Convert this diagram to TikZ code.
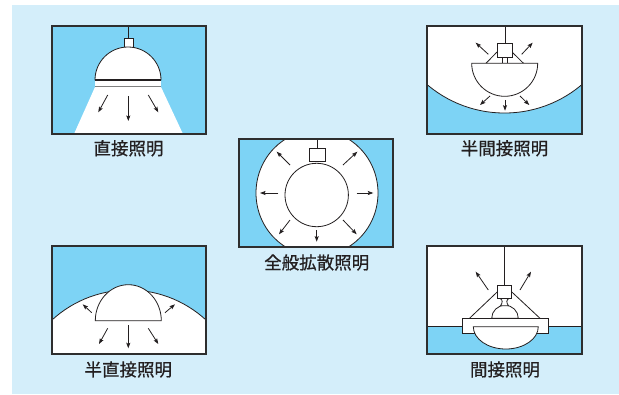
\documentclass[tikz,border=0pt]{standalone}
\usepackage{fontspec}
\newfontfamily\jpfont[FakeBold=0.7]{Noto Sans CJK JP}
\usetikzlibrary{arrows.meta}
\definecolor{bgblue}{HTML}{D4EEFA}
\definecolor{lampblue}{HTML}{7DD3F5}
\definecolor{frame}{HTML}{2E2E2E}
\definecolor{ink}{HTML}{231F20}
\begin{document}
\begin{tikzpicture}[x=1pt,y=1pt,yscale=-1,
  part/.style={draw=ink,line width=0.8pt,fill=white},
  ray/.style={draw=ink,line width=0.8pt,-{Stealth[length=5.5pt,width=4pt,inset=1pt]}},
  panel/.style={draw=frame,line width=1.1pt},
  caption/.style={text=ink,font=\jpfont\fontsize{17.5}{20}\selectfont,inner sep=0pt}]
\useasboundingbox (0,0) rectangle (619,394);
\fill[bgblue] (12,5) rectangle (619,394);

% ---------- direct lighting ----------
\fill[lampblue] (52,26) rectangle (206,134);
\fill[white] (95,87) -- (161,87) -- (183,134) -- (74,134) -- cycle;
\draw[ink,line width=0.8pt] (128.5,26) -- (128.5,38);
\filldraw[part] (124,38) rectangle (133,47);
\filldraw[part] (95,80) arc[start angle=180,end angle=360,radius=33] -- cycle;
\fill[white] (95,80) rectangle (161,87);
\draw[ink,line width=1.2pt] (95,80) -- (161,80);
\draw[gray,line width=1.5pt] (95,86.5) -- (161,86.5);
\draw[ray] (107.7,95) -- (98.3,112.3);
\draw[ray] (128.3,96) -- (128.3,121);
\draw[ray] (148.3,95) -- (158.3,112.3);
\draw[panel] (52,26) rectangle (206,134);
\node[caption] (c1) at (128.5,148.3) {直接照明};

% ---------- semi-indirect lighting ----------
\fill[lampblue] (427,26) rectangle (582,134);
\begin{scope}
  \clip (427,26) rectangle (582,134);
  \fill[white] (504.5,-6.6) circle[radius=119.6];
  \draw[ink,line width=0.8pt] (504.5,-6.6) circle[radius=119.6];
\end{scope}
\draw[ink,line width=0.8pt] (505,26) -- (505,43);
\draw[ink,line width=0.8pt] (497,52) -- (486,63.3) (512,52) -- (523.5,63.3);
\draw[ink,line width=0.8pt] (502,57.5) -- (502,63.3) (507,57.5) -- (507,63.3);
\filldraw[part] (497,43) rectangle (512,57.5);
\filldraw[part] (537.7,63.3) arc[start angle=0,end angle=180,radius=33] -- cycle;
\draw[ray] (488.3,54.3) -- (475.7,42.7);
\draw[ray] (521.7,54.3) -- (532.7,42.7);
\draw[ray] (490,96) -- (480,105);
\draw[ray] (505,100) -- (505,110.7);
\draw[ray] (520,96) -- (529.3,105);
\draw[panel] (427,26) rectangle (582,134);
\node[caption] (c2) at (504.5,148.3) {半間接照明};

% ---------- general diffuse lighting ----------
\fill[lampblue] (239,139) rectangle (393,247);
\begin{scope}
  \clip (239,139) rectangle (393,247);
  \filldraw[fill=white,draw=ink,line width=0.8pt] (317,193) ellipse[x radius=61,y radius=63];
\end{scope}
\draw[ink,line width=0.8pt] (317,139) -- (317,148.3);
\filldraw[part] (309,148.3) rectangle (325,161.7);
\filldraw[part] (316.7,195) circle[radius=31.7];
\draw[ray] (278.3,193) -- (260,193);
\draw[ray] (356.7,193) -- (373.3,193);
\draw[ray] (316.7,230) -- (316.7,241.7);
\draw[ray] (290,165) -- (276.7,151.7);
\draw[ray] (343,165) -- (357.3,151.7);
\draw[ray] (290,220) -- (279,234.3);
\draw[ray] (343,220) -- (356.7,234.3);
\draw[panel] (239,139) rectangle (393,247);
\node[caption] (c3) at (316.7,262.5) {全般拡散照明};

% ---------- semi-direct lighting ----------
\fill[lampblue] (52,246) rectangle (206,354);
\begin{scope}
  \clip (52,246) rectangle (206,354);
  \filldraw[fill=white,draw=ink,line width=0.8pt] (129,403.8) circle[radius=113.8];
\end{scope}
\filldraw[part] (95.3,320.7) arc[start angle=180,end angle=360,x radius=33,y radius=36] -- cycle;
\draw[ray] (91.7,312.7) -- (82.7,304.3);
\draw[ray] (165,312.7) -- (175,304.3);
\draw[ray] (107.7,328.3) -- (99,344);
\draw[ray] (128.3,325) -- (128.3,348.3);
\draw[ray] (148.3,328.3) -- (158.3,344);
\draw[panel] (52,246) rectangle (206,354);
\node[caption] (c4) at (128.3,369.5) {半直接照明};

% ---------- indirect lighting ----------
\fill[white] (427,246) rectangle (582,354);
\fill[lampblue] (427,326) rectangle (582,354);
\draw[ink,line width=0.8pt] (427,326) -- (582,326);
\draw[ink,line width=0.8pt] (504.5,246) -- (504.5,285);
\draw[ink,line width=0.8pt] (497.7,291.5) -- (469.5,318.3) (511.3,291.5) -- (540,318.3);
\filldraw[part] (491.7,318.3) arc[start angle=180,end angle=360,x radius=13.3,y radius=13] -- cycle;
\filldraw[part] (500,298.3) .. controls (502.8,300) and (502.8,302.5) .. (500.5,305.8)
  -- (508.5,305.8) .. controls (506.2,302.5) and (506.2,300) .. (509,298.3) -- cycle;
\filldraw[part] (497.7,285) rectangle (511.3,298.3);
\filldraw[part] (462.7,318.3) rectangle (548.3,333.3);
\filldraw[part] (538.3,326.7) arc[start angle=0,end angle=180,x radius=32.5,y radius=22.3] -- cycle;
\draw[ray] (488.3,290) -- (475.7,271.7);
\draw[ray] (520,290) -- (531,271.7);
\draw[panel] (427,246) rectangle (582,354);
\node[caption] (c5) at (505,369.5) {間接照明};
\end{tikzpicture}
\end{document}
